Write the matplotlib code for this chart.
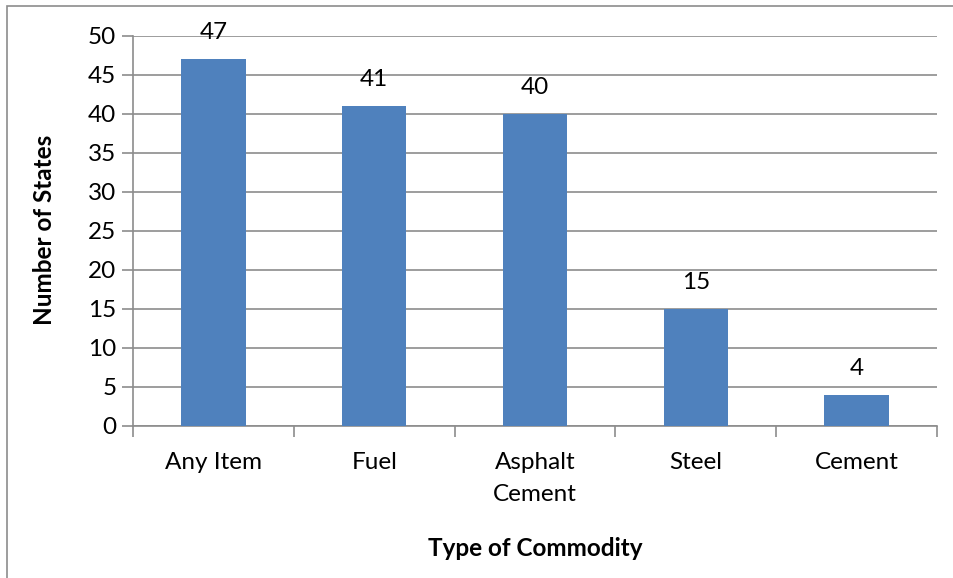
import matplotlib.pyplot as plt
from matplotlib.patches import Rectangle

# commodities and how many states reported each
commodities = ['Any Item', 'Fuel', 'Asphalt\nCement', 'Steel', 'Cement']
num_states = [47, 41, 40, 15, 4]
y_ticks = [0, 5, 10, 15, 20, 25, 30, 35, 40, 45, 50]

bar_color = '#4F81BD'
grid_color = '#8C8C8C'

plt.rcParams['font.family'] = ['Lato', 'DejaVu Sans']

W, H = 954, 578
fig = plt.figure(figsize=(W / 100, H / 100), dpi=100)
ax = fig.add_axes([133 / W, 1 - 426 / H, (937 - 133) / W, (426 - 35.5) / H])

x = range(len(commodities))
ax.bar(x, num_states, width=0.4, color=bar_color, zorder=3)
for xi, v in zip(x, num_states):
    ax.text(xi, v + 3.4, str(v), ha='center', va='center', fontsize=17.5, color='black',
            zorder=4, clip_on=False)

ax.set_xlim(-0.5, len(commodities) - 0.5)
ax.set_ylim(0, 50)
ax.set_yticks(y_ticks)
ax.yaxis.grid(True, color=grid_color, linewidth=1.2, zorder=0)

# category labels sit between the boundary ticks
ax.set_xticks([i - 0.5 for i in range(len(commodities) + 1)])
ax.set_xticklabels([])
ax.set_xticks(list(x), minor=True)
ax.set_xticklabels(commodities, minor=True, fontsize=17.5, linespacing=1.6)
ax.tick_params(axis='x', which='minor', length=0, pad=19)
ax.tick_params(axis='x', which='major', length=8, width=1.2, color=grid_color)
ax.tick_params(axis='y', length=8, width=1.2, color=grid_color, labelsize=17.5, pad=4)

for side in ['top', 'right']:
    ax.spines[side].set_visible(False)
for side in ['left', 'bottom']:
    ax.spines[side].set_color(grid_color)
    ax.spines[side].set_linewidth(1.2)

fig.text(45 / W, 1 - 230 / H, 'Number of States', rotation=90, ha='center', va='center',
         fontsize=17.5, fontweight='bold')
fig.text(535 / W, 1 - 549 / H, 'Type of Commodity', ha='center', va='center',
         fontsize=17.5, fontweight='bold')

fig.patches.append(Rectangle((7 / W, -0.01), 1.0, 1 - 6 / H + 0.01, transform=fig.transFigure,
                             fill=False, edgecolor='#8C8C8C', linewidth=1.2))

fig.savefig('out.png', dpi=100)
